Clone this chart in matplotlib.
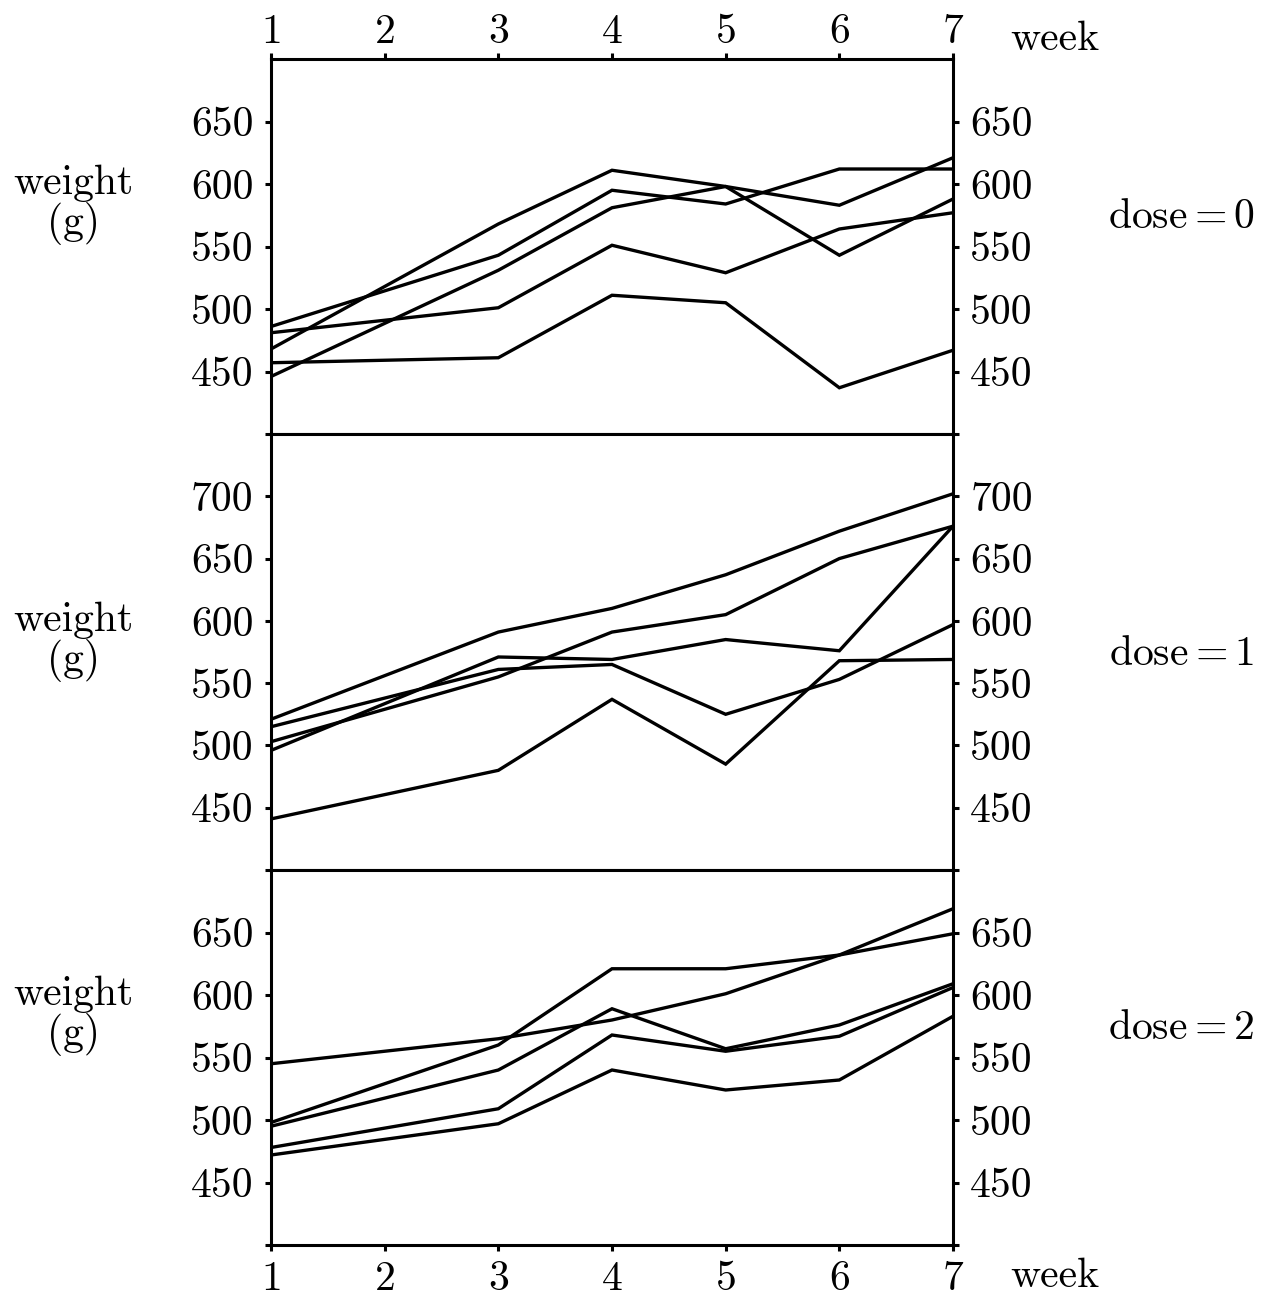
import matplotlib
matplotlib.use("agg")
import matplotlib.pyplot as plt

# measurement weeks (no week 2 record)
weeks = [1, 3, 4, 5, 6, 7]
week_ticks = [1, 2, 3, 4, 5, 6, 7]

# body weight (g), one row per rat
dose0 = [
    [468, 568, 611, 598, 543, 588],
    [486, 543, 595, 584, 612, 612],
    [446, 531, 581, 598, 583, 621],
    [481, 501, 551, 529, 564, 577],
    [457, 461, 511, 505, 437, 467],
]
dose1 = [
    [521, 591, 610, 637, 672, 702],
    [515, 561, 565, 525, 553, 597],
    [496, 571, 569, 585, 576, 676],
    [503, 555, 591, 605, 650, 676],
    [441, 480, 537, 485, 568, 569],
]
dose2 = [
    [545, 565, 580, 601, 632, 669],
    [498, 560, 621, 621, 632, 649],
    [495, 540, 589, 557, 576, 609],
    [478, 509, 568, 555, 567, 606],
    [472, 497, 540, 524, 532, 583],
]
panels = [dose0, dose1, dose2]
dose_labels = ["0", "1", "2"]
ylims = [(400, 700), (400, 750), (400, 700)]
yticks = [[400, 450, 500, 550, 600, 650],
          [400, 450, 500, 550, 600, 650, 700],
          [400, 450, 500, 550, 600, 650]]

plt.rcParams["font.family"] = "serif"
plt.rcParams["font.serif"] = ["cmr10"]
plt.rcParams["mathtext.fontset"] = "cm"
plt.rcParams["axes.formatter.use_mathtext"] = True
plt.rcParams["font.size"] = 30

fig = plt.figure(figsize=(12.68, 12.91), dpi=100)
left = 271 / 1268
width = (953 - 271) / 1268
tops = [59, 434, 870]
bottoms = [434, 870, 1245]

for i, rats in enumerate(panels):
    bottom = 1 - bottoms[i] / 1291
    height = (bottoms[i] - tops[i]) / 1291
    ax = fig.add_axes([left, bottom, width, height])
    for w in rats:
        ax.plot(weeks, w, color="black", lw=2.4, solid_joinstyle="miter")
    ax.set_xlim(1, 7)
    ax.set_ylim(*ylims[i])
    ax.set_yticks(yticks[i])
    ax.set_yticklabels(["" if t == 400 else str(t) for t in yticks[i]])
    ax.tick_params(axis="y", which="both", left=True, right=True,
                   labelleft=True, labelright=True, direction="out",
                   length=4.5, width=2.2, pad=8)
    ax.set_xticks(week_ticks)
    if i == 0:
        ax.tick_params(axis="x", top=True, bottom=False, labeltop=True,
                       labelbottom=False, direction="out", length=4.5,
                       width=2.2, pad=1)
        ax.text(7.5, 1.0 + 9 / 375, "week", transform=ax.get_xaxis_transform(),
                ha="left", va="baseline", clip_on=False)
    elif i == 2:
        ax.tick_params(axis="x", top=False, bottom=True, labeltop=False,
                       labelbottom=True, direction="out", length=4.5,
                       width=2.2, pad=7)
        ax.text(7.5, -13 / 375, "week", transform=ax.get_xaxis_transform(),
                ha="left", va="top", clip_on=False)
    else:
        ax.tick_params(axis="x", top=False, bottom=False, labeltop=False,
                       labelbottom=False)
    for s in ax.spines.values():
        s.set_linewidth(2.2)
    ax.text(-0.29, 583, "weight\n(g)", transform=ax.get_yaxis_transform(),
            ha="center", va="center", linespacing=1.0, clip_on=False)
    ax.text(1.335, 573, r"$\mathrm{dose}=" + dose_labels[i] + "$",
            transform=ax.get_yaxis_transform(), ha="center", va="center",
            clip_on=False)

fig.savefig("out.png", dpi=100)
